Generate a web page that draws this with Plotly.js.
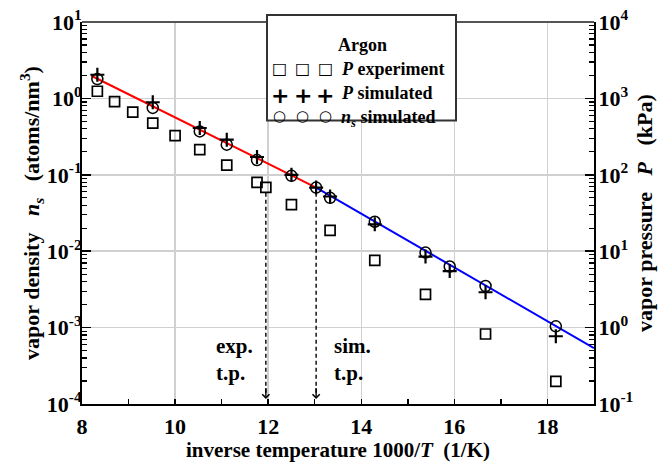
<!DOCTYPE html>
<html><head><meta charset="utf-8">
<script src="https://cdn.plot.ly/plotly-3.0.1.min.js"></script>
<style>body{margin:0;padding:0;background:#fff}#chart{width:659px;height:462px}</style>
</head><body><div id="chart"></div>
<script>
// ---- data ----
const invT_exp = [8.33, 8.70, 9.09, 9.52, 10.00, 10.53, 11.11, 11.76, 11.95, 12.50, 13.33, 14.29, 15.38, 16.67, 18.18];
const P_exp_kPa = [1240, 910, 660, 476, 325, 213, 134, 79.6, 68.4, 40.6, 18.7, 7.6, 2.72, 0.824, 0.198];
const invT_sim = [8.33, 9.52, 10.53, 11.11, 11.76, 12.50, 13.03, 13.33, 14.29, 15.38, 15.90, 16.67, 18.18];
const P_sim_kPa = [2040, 890, 410, 288, 171, 100, 68, 52, 22.5, 8.5, 5.5, 2.9, 0.77];
const ns_sim = [1.79, 0.75, 0.37, 0.248, 0.156, 0.097, 0.068, 0.050, 0.0243, 0.0096, 0.0063, 0.0035, 0.00104];
const fitLiquidX = [8.2, 13.03];
const fitLiquidN = [1.98, 0.068];
const fitSolidX = [13.03, 19];
const fitSolidN = [0.068, 0.00054];
const tpX = [11.95, 13.03];          // exp. and sim. triple points
const tpTopN = [0.058, 0.058];       // top of dashed arrows
const tpLabels = ['exp.<br>t.p.', 'sim.<br>t.p.'];
const xTicks = [8, 10, 12, 14, 16, 18];
const leftTicks = [1e-4, 1e-3, 1e-2, 1e-1, 1, 10];
const leftTickText = ['10<sup>-4</sup>','10<sup>-3</sup>','10<sup>-2</sup>','10<sup>-1</sup>','10<sup>0</sup>','10<sup>1</sup>'];
const rightTicks = [0.1, 1, 10, 100, 1000, 10000];
const rightTickText = ['10<sup>-1</sup>','10<sup>0</sup>','10<sup>1</sup>','10<sup>2</sup>','10<sup>3</sup>','10<sup>4</sup>'];

const F = 'Liberation Serif';
const SP = '\u00A0\u00A0\u00A0';
function minorVals(lo, hi){ const v=[]; for(let e=lo;e<hi;e++){ for(let m=2;m<=9;m++) v.push(m*Math.pow(10,e)); } return v; }

const traces = [
  {x: fitLiquidX, y: fitLiquidN, mode:'lines', line:{color:'#ff0000', width:2}, hoverinfo:'skip'},
  {x: fitSolidX, y: fitSolidN, mode:'lines', line:{color:'#0000ff', width:2}, hoverinfo:'skip'},
];
tpX.forEach((x,i)=>{
  traces.push({x:[x,x], y:[tpTopN[i], 1.3e-4], mode:'lines', line:{color:'#000', width:1.4, dash:'4px,3px'}, hoverinfo:'skip'});
});
traces.push(
  {x: invT_exp, y: P_exp_kPa, yaxis:'y2', mode:'markers', marker:{symbol:'square-open', size:10, color:'#000', line:{width:1.7, color:'#000'}}},
  {x: invT_sim, y: ns_sim, mode:'markers', marker:{symbol:'circle-open', size:11, color:'#000', line:{width:1.5, color:'#000'}}},
  {x: invT_sim, y: P_sim_kPa, yaxis:'y2', mode:'markers', marker:{symbol:'cross-thin-open', size:10, color:'#000', line:{width:2.2, color:'#000'}}}
);

const tickFont = {family:F, size:22, color:'#000', weight:700};
const titleFont = {family:F, size:21, color:'#000', weight:700};

const annotations = [];
tpX.forEach((x,i)=>{
  annotations.push({x:x, y:-4, xref:'x', yref:'y', showarrow:true, arrowhead:4, arrowsize:1, arrowwidth:1.4, arrowcolor:'#000',
    ax:0, ay:-12, yshift:5, text:' ', font:{size:1}, borderpad:0});
});
annotations.push({x:tpX[0], y:-3.42, xref:'x', yref:'y', text:'<b>'+tpLabels[0]+'</b>', showarrow:false, xanchor:'right', xshift:-11, align:'left', font:{family:F, size:21, color:'#000'}});
annotations.push({x:tpX[1], y:-3.42, xref:'x', yref:'y', text:'<b>'+tpLabels[1]+'</b>', showarrow:false, xanchor:'left', xshift:16, align:'left', font:{family:F, size:21, color:'#000'}});

// legend (drawn manually: three symbols per row)
function px(xp){ return (xp-82)/512; }
function py(yp){ return (404-yp)/382; }
annotations.push({x:px(362), y:py(33), xref:'paper', yref:'paper', text:'<b>Argon</b>', showarrow:false, font:{family:F, size:18, color:'#000'}});
const legRows = [
  {y:57, glyph:'\u25A1', gfont:{family:'DejaVu Sans', size:16, color:'#000'}, text:'<b><i>P</i> experiment</b>'},
  {y:81, glyph:'<b>+</b>', gfont:{family:'DejaVu Sans', size:22, color:'#000'}, text:'<b><i>P</i> simulated</b>'},
  {y:104.5, glyph:'\u25CB', gfont:{family:'DejaVu Sans', size:15, color:'#000'}, text:'<b><i>n<sub>s</sub></i> simulated</b>'}
];
legRows.forEach(r=>{
  [279.5, 302.5, 325].forEach(gx=>{
    annotations.push({x:px(gx), y:py(r.y), xref:'paper', yref:'paper', text:r.glyph, showarrow:false, font:r.gfont});
  });
  annotations.push({x:px(339), y:py(r.y), xref:'paper', yref:'paper', xanchor:'left', text:r.text, showarrow:false, font:{family:F, size:18, color:'#000'}});
});

const layout = {
  width:659, height:462,
  margin:{l:82, r:65, t:22, b:58},
  paper_bgcolor:'#fff', plot_bgcolor:'#fff',
  showlegend:false,
  xaxis:{range:[8,19], tickmode:'array', tickvals:xTicks, ticks:'inside', ticklen:5, tickwidth:1.5, tickcolor:'#000',
    showline:true, linewidth:2, linecolor:'#000', showgrid:true, gridcolor:'#d0d0d0', gridwidth:1.5, zeroline:false,
    minor:{tickvals:[9,11,13,15,17,19], ticks:'inside', ticklen:5, tickwidth:1.5, tickcolor:'#000', showgrid:false},
    tickfont:tickFont, ticklabelstandoff:2,
    title:{text:'inverse temperature 1000/<i>T</i>\u00A0\u00A0(1/K)', font:titleFont, standoff:4}},
  yaxis:{type:'log', range:[-4,1], tickmode:'array', tickvals:leftTicks, ticktext:leftTickText, ticks:'inside', ticklen:9, tickwidth:1.5, tickcolor:'#000',
    showline:true, linewidth:2, linecolor:'#000', showgrid:true, gridcolor:'#d0d0d0', gridwidth:1.5, zeroline:false,
    minor:{tickvals:minorVals(-4,1), ticks:'inside', ticklen:5, tickwidth:1.2, tickcolor:'#000', showgrid:false},
    tickfont:tickFont, ticklabelstandoff:-6,
    title:{text:'vapor density'+SP+'<i>n<sub>s</sub></i>'+SP+'(atoms/nm<sup>3</sup>)', font:{family:F, size:22, color:'#000', weight:700}, standoff:1}},
  yaxis2:{type:'log', range:[-1,4], overlaying:'y', side:'right', tickmode:'array', tickvals:rightTicks, ticktext:rightTickText, ticks:'inside', ticklen:9, tickwidth:1.5, tickcolor:'#000',
    showline:true, linewidth:2, linecolor:'#000', showgrid:false, zeroline:false,
    minor:{tickvals:minorVals(-1,4), ticks:'inside', ticklen:5, tickwidth:1.2, tickcolor:'#000', showgrid:false},
    tickfont:tickFont, ticklabelstandoff:-2,
    title:{text:'vapor pressure'+SP+'<i>P</i>'+SP+'(kPa)', font:{family:F, size:22, color:'#000', weight:700}, standoff:4}},
  shapes:[
    {type:'line', xref:'paper', yref:'paper', x0:0, x1:1, y0:1, y1:1, line:{color:'#555', width:2}},
    {type:'rect', xref:'paper', yref:'paper', x0:px(267), x1:px(456), y0:py(120.5), y1:py(15), line:{color:'#333', width:2}, fillcolor:'#fff', layer:'above'}
  ],
  annotations:annotations
};
Plotly.newPlot('chart', traces, layout, {displayModeBar:false, staticPlot:true});
</script></body></html>
